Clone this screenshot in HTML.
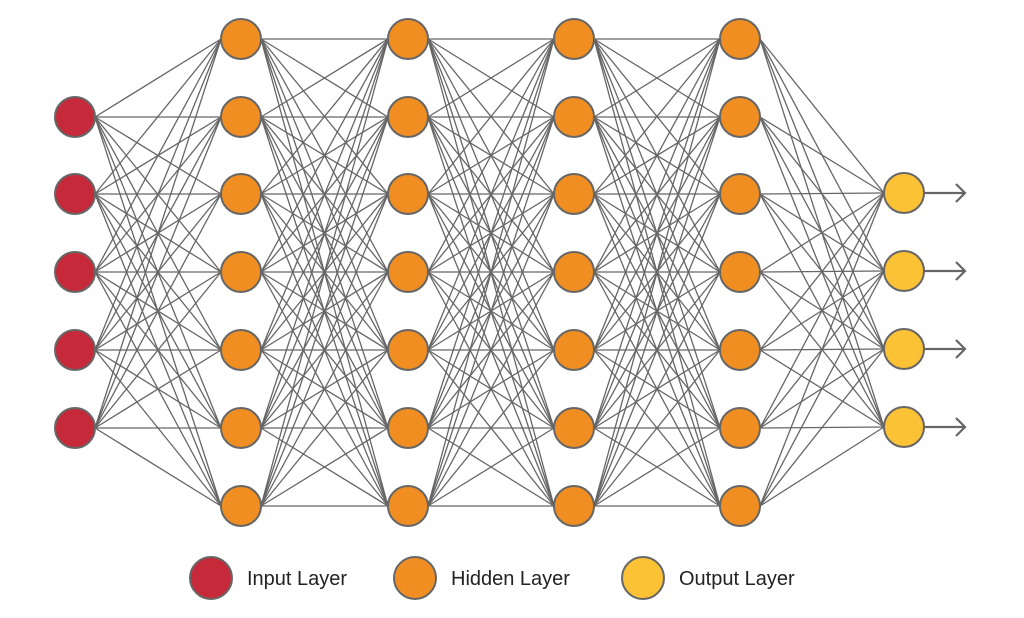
<!DOCTYPE html>
<html><head><meta charset="utf-8"><style>
html,body{margin:0;padding:0;background:#fff;width:1024px;height:618px;overflow:hidden}
svg text{font-family:"Liberation Sans",sans-serif;font-size:20px;fill:#222}
</style></head><body>
<svg id="s" width="1024" height="618" xmlns="http://www.w3.org/2000/svg">
<g id="lines" stroke="#666" stroke-width="1.3"></g>
<g id="nodes" stroke="#666" stroke-width="2"></g>
<g stroke="#666" stroke-width="2.2" fill="none">
<path d="M924 193H964M956 184L965 193L956 202"/>
<path d="M924 271H964M956 262L965 271L956 280"/>
<path d="M924 349H964M956 340L965 349L956 358"/>
<path d="M924 427H964M956 418L965 427L956 436"/>
</g>
<g stroke="#666" stroke-width="2">
<circle cx="211" cy="578" r="21" fill="#c62a3a"/>
<circle cx="415" cy="578" r="21" fill="#f08e22"/>
<circle cx="643" cy="578" r="21" fill="#fbc236"/>
</g>
<text x="247" y="585">Input Layer</text>
<text x="451" y="585">Hidden Layer</text>
<text x="679" y="585">Output Layer</text>
</svg>
<script>
var R=20;
var H=[39,117,194,272,350,428,506];
var layers=[
{x:75,ys:[117,194,272,350,428],c:"#c62a3a"},
{x:241,ys:H,c:"#f08e22"},
{x:408,ys:H,c:"#f08e22"},
{x:574,ys:H,c:"#f08e22"},
{x:740,ys:H,c:"#f08e22"},
{x:904,ys:[193,271,349,427],c:"#fbc236"}];
var ns="http://www.w3.org/2000/svg",L=document.getElementById("lines"),N=document.getElementById("nodes");
for(var i=0;i<layers.length-1;i++){var a=layers[i],b=layers[i+1];
a.ys.forEach(function(y1){b.ys.forEach(function(y2){var l=document.createElementNS(ns,"line");
l.setAttribute("x1",a.x+R);l.setAttribute("y1",y1);l.setAttribute("x2",b.x-R);l.setAttribute("y2",y2);L.appendChild(l);});});}
layers.forEach(function(a){a.ys.forEach(function(y){var c=document.createElementNS(ns,"circle");
c.setAttribute("cx",a.x);c.setAttribute("cy",y);c.setAttribute("r",R);c.setAttribute("fill",a.c);N.appendChild(c);});});
</script>
</body></html>
